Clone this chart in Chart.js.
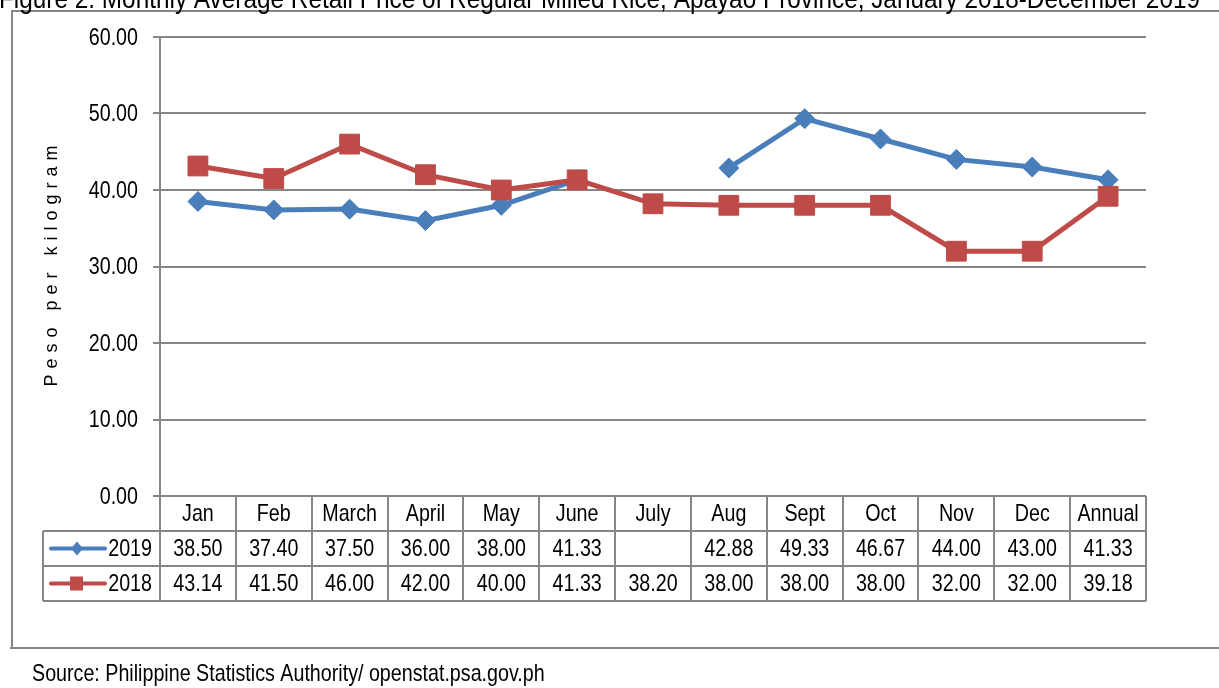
<!DOCTYPE html>
<html>
<head>
<meta charset="utf-8">
<script src="https://cdn.jsdelivr.net/npm/chart.js@4/dist/chart.umd.min.js"></script>
<style>
  html, body { margin: 0; padding: 0; background: #fff; }
  #c { display: block; }
</style>
</head>
<body>
<canvas id="c" width="1219" height="688"></canvas>
<script>
const months = ['Jan', 'Feb', 'March', 'April', 'May', 'June', 'July', 'Aug', 'Sept', 'Oct', 'Nov', 'Dec', 'Annual'];
const price2019 = [38.50, 37.40, 37.50, 36.00, 38.00, 41.33, null, 42.88, 49.33, 46.67, 44.00, 43.00, 41.33];
const price2018 = [43.14, 41.50, 46.00, 42.00, 40.00, 41.33, 38.20, 38.00, 38.00, 38.00, 32.00, 32.00, 39.18];
const yTicks = [0, 10, 20, 30, 40, 50, 60];

const titleText = 'Figure 2. Monthly Average Retail Price of Regular Milled Rice, Apayao Province, January 2018-December 2019';
const sourceText = 'Source: Philippine Statistics Authority/ openstat.psa.gov.ph';
const yTitle = 'Peso per kilogram';

// no narrow font installed, so regular Liberation Sans is squeezed horizontally
const FONT = '"Liberation Sans", Arial, sans-serif';
const NARROW = 0.82;
const BLUE = '#4a7ebb';
const RED = '#be4b48';
const GRID = '#868686';

function narrowText(ctx, text, x, y, size, align, sx) {
    ctx.save();
    ctx.font = size + 'px ' + FONT;
    ctx.textAlign = align;
    ctx.translate(x, y);
    ctx.scale(sx || NARROW, 1);
    ctx.fillText(text, 0, 0);
    ctx.restore();
}

// draws frame, title, axis labels and the data table under the plot
const tablePlugin = {
    id: 'dataTable',
    afterDraw(chart) {
        const ctx = chart.ctx;
        const area = chart.chartArea;
        const xs = chart.scales.x;
        const ys = chart.scales.y;
        const colW = (area.right - area.left) / months.length;
        const rowH = 35;
        const top = area.bottom;
        const tableLeft = 43;

        ctx.save();

        // outer frame
        ctx.strokeStyle = GRID;
        ctx.lineWidth = 2;
        ctx.beginPath();
        ctx.moveTo(12, 648); ctx.lineTo(12, 11); ctx.lineTo(1219, 11);
        ctx.moveTo(10, 648); ctx.lineTo(1219, 648);
        ctx.stroke();

        ctx.fillStyle = '#000';
        ctx.textBaseline = 'alphabetic';

        // title (top half clipped by the page edge), stretched to the reference width
        ctx.font = '28px ' + FONT;
        const tw = ctx.measureText(titleText).width;
        narrowText(ctx, titleText, -1, 8, 28, 'left', 1201 / tw);

        // source
        narrowText(ctx, sourceText, 32, 681, 24, 'left');

        // y tick labels
        ctx.textBaseline = 'middle';
        yTicks.forEach(v => {
            narrowText(ctx, v.toFixed(2), 138, ys.getPixelForValue(v) + 1, 24, 'right');
        });

        // y axis title, letter spaced
        ctx.save();
        ctx.translate(52, 263);
        ctx.rotate(-Math.PI / 2);
        ctx.font = '18px ' + FONT;
        ctx.letterSpacing = '6px';
        ctx.textAlign = 'center';
        ctx.fillText(yTitle, 0, 0);
        ctx.restore();

        // table grid
        ctx.strokeStyle = GRID;
        ctx.lineWidth = 2;
        ctx.beginPath();
        for (let i = 0; i <= months.length; i++) {
            const x = Math.round(area.left + i * colW);
            ctx.moveTo(x, top);
            ctx.lineTo(x, top + rowH * 3);
        }
        ctx.moveTo(tableLeft, top + rowH);
        ctx.lineTo(tableLeft, top + rowH * 3);
        for (let r = 1; r <= 3; r++) {
            ctx.moveTo(tableLeft, top + rowH * r);
            ctx.lineTo(area.right, top + rowH * r);
        }
        ctx.stroke();

        // table text
        ctx.fillStyle = '#000';
        months.forEach((m, i) => {
            const cx = xs.getPixelForValue(i);
            narrowText(ctx, m, cx, top + rowH * 0.5 + 1, 24, 'center');
            if (price2019[i] !== null) narrowText(ctx, price2019[i].toFixed(2), cx, top + rowH * 1.5 + 1, 24, 'center');
            if (price2018[i] !== null) narrowText(ctx, price2018[i].toFixed(2), cx, top + rowH * 2.5 + 1, 24, 'center');
        });

        // legend keys
        const keys = [
            { label: '2019', color: BLUE, y: top + rowH * 1.5, shape: 'diamond' },
            { label: '2018', color: RED, y: top + rowH * 2.5, shape: 'square' }
        ];
        keys.forEach(k => {
            ctx.strokeStyle = k.color;
            ctx.fillStyle = k.color;
            ctx.lineWidth = 4;
            ctx.lineCap = 'round';
            ctx.beginPath();
            ctx.moveTo(51, k.y);
            ctx.lineTo(105, k.y);
            ctx.stroke();
            ctx.beginPath();
            if (k.shape === 'diamond') {
                ctx.moveTo(77, k.y - 7); ctx.lineTo(83, k.y); ctx.lineTo(77, k.y + 7); ctx.lineTo(71, k.y);
            } else {
                ctx.rect(70, k.y - 7, 13, 14);
            }
            ctx.fill();
            ctx.fillStyle = '#000';
            narrowText(ctx, k.label, 152, k.y + 1, 24, 'right');
        });

        ctx.restore();
    }
};

new Chart(document.getElementById('c'), {
    type: 'line',
    data: {
        labels: months,
        datasets: [
            {
                label: '2019',
                data: price2019,
                borderColor: BLUE,
                backgroundColor: BLUE,
                borderWidth: 5,
                pointStyle: 'rectRot',
                pointRadius: 10,
                pointBorderWidth: 1,
                spanGaps: false,
                order: 1
            },
            {
                label: '2018',
                data: price2018,
                borderColor: RED,
                backgroundColor: RED,
                borderWidth: 5,
                pointStyle: 'rect',
                pointRadius: 14,
                pointBorderWidth: 1,
                order: 0
            }
        ]
    },
    options: {
        responsive: false,
        animation: false,
        layout: { padding: { left: 0, right: 73, top: 37, bottom: 192 } },
        plugins: {
            legend: { display: false },
            tooltip: { enabled: false }
        },
        scales: {
            x: {
                display: false,
                offset: true
            },
            y: {
                min: 0,
                max: 60,
                afterFit(scale) { scale.width = 160; },
                afterBuildTicks(scale) { scale.ticks = yTicks.map(v => ({ value: v })); },
                ticks: { display: false },
                grid: { color: GRID, lineWidth: 2, tickLength: 7, drawTicks: true },
                border: { color: GRID, width: 2 }
            }
        }
    },
    plugins: [tablePlugin]
});
</script>
</body>
</html>
